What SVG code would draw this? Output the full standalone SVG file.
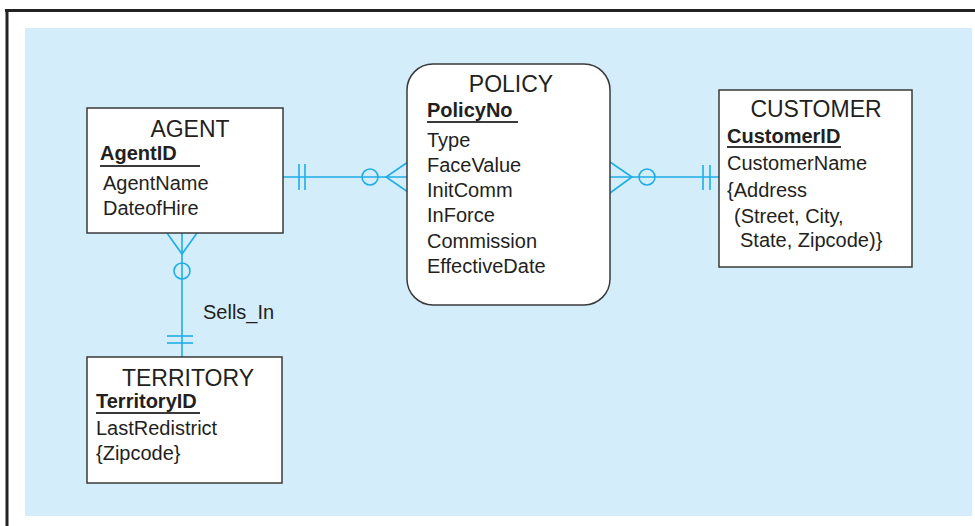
<svg xmlns="http://www.w3.org/2000/svg" width="975" height="526" viewBox="0 0 975 526">
<defs>
<style>
.box{fill:#ffffff;stroke:#3a3a3a;stroke-width:1.5}
.t{font-family:"Liberation Sans",Arial,sans-serif;fill:#231f20}
.title{font-size:23px;text-anchor:middle}
.attr{font-size:20px}
.key{font-size:20px;font-weight:bold}
.ul{stroke:#3a3a3a;stroke-width:2}
.c{stroke:#1fade6;stroke-width:1.6;fill:none}
</style>
</defs>
<rect x="0" y="0" width="975" height="526" fill="#ffffff"/>
<rect x="25" y="28" width="947" height="488" fill="#d3eefa"/>
<line x1="5" y1="10.5" x2="975" y2="10.5" stroke="#222" stroke-width="3"/>
<line x1="7" y1="9" x2="7" y2="526" stroke="#222" stroke-width="3"/>

<g id="connectors">
  <!-- AGENT - POLICY -->
  <line class="c" x1="283" y1="177" x2="407" y2="177"/>
  <line class="c" x1="299" y1="164" x2="299" y2="190"/>
  <line class="c" x1="305" y1="164" x2="305" y2="190"/>
  <circle class="c" cx="370" cy="177" r="8"/>
  <polyline class="c" points="408,162 386,177 408,192"/>
  <!-- POLICY - CUSTOMER -->
  <line class="c" x1="610" y1="177" x2="719" y2="177"/>
  <polyline class="c" points="610,162 632,177 610,193"/>
  <circle class="c" cx="647" cy="177" r="8"/>
  <line class="c" x1="703" y1="165" x2="703" y2="190"/>
  <line class="c" x1="710" y1="165" x2="710" y2="190"/>
  <!-- AGENT - TERRITORY -->
  <line class="c" x1="182" y1="233" x2="182" y2="357"/>
  <polyline class="c" points="167,233 182,254 197,233"/>
  <circle class="c" cx="182" cy="271" r="8"/>
  <line class="c" x1="167" y1="336" x2="193" y2="336"/>
  <line class="c" x1="167" y1="343" x2="193" y2="343"/>
  <text class="t attr" x="203" y="319">Sells_In</text>
</g>

<g id="agent">
  <rect class="box" x="87" y="108" width="196" height="125"/>
  <text class="t title" x="190" y="137">AGENT</text>
  <text class="t key" x="100" y="160">AgentID</text>
  <line class="ul" x1="100" y1="166" x2="200" y2="166"/>
  <text class="t attr" x="103" y="190">AgentName</text>
  <text class="t attr" x="103" y="215">DateofHire</text>
</g>

<g id="policy">
  <rect class="box" x="407" y="64" width="203" height="241" rx="26" ry="26"/>
  <text class="t title" x="511" y="92">POLICY</text>
  <text class="t key" x="427" y="117">PolicyNo</text>
  <line class="ul" x1="427" y1="122" x2="518" y2="122"/>
  <text class="t attr" x="427" y="146.5">Type</text>
  <text class="t attr" x="427" y="171.5">FaceValue</text>
  <text class="t attr" x="427" y="196.5">InitComm</text>
  <text class="t attr" x="427" y="222">InForce</text>
  <text class="t attr" x="427" y="247.5">Commission</text>
  <text class="t attr" x="427" y="272.5">EffectiveDate</text>
</g>

<g id="customer">
  <rect class="box" x="719" y="90" width="193" height="177"/>
  <text class="t title" x="816" y="117">CUSTOMER</text>
  <text class="t key" x="727" y="143">CustomerID</text>
  <line class="ul" x1="727" y1="147" x2="841" y2="147"/>
  <text class="t attr" x="727" y="170">CustomerName</text>
  <text class="t attr" x="727" y="197">{Address</text>
  <text class="t attr" x="734" y="223">(Street, City,</text>
  <text class="t attr" x="740" y="247">State, Zipcode)}</text>
</g>

<g id="territory">
  <rect class="box" x="87" y="357" width="195" height="126"/>
  <text class="t title" x="188" y="386">TERRITORY</text>
  <text class="t key" x="96" y="408">TerritoryID</text>
  <line class="ul" x1="96" y1="413" x2="200" y2="413"/>
  <text class="t attr" x="96" y="435">LastRedistrict</text>
  <text class="t attr" x="96" y="460">{Zipcode}</text>
</g>
</svg>
